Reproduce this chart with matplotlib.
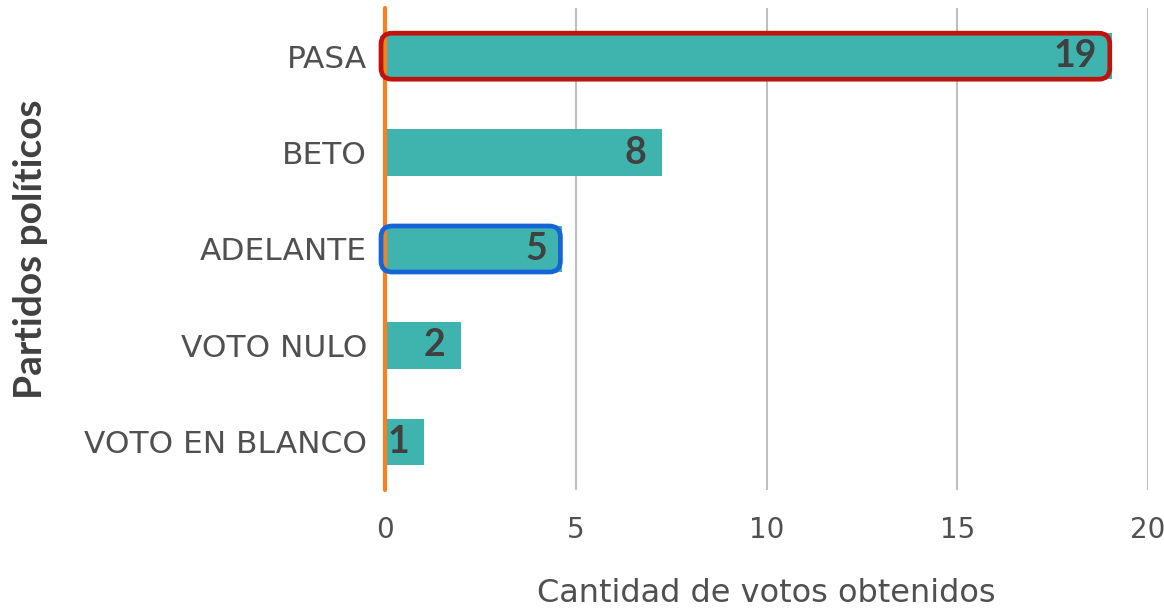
import matplotlib
matplotlib.use("Agg")
import matplotlib.pyplot as plt
from matplotlib.patches import FancyBboxPatch

categories = ["PASA", "BETO", "ADELANTE", "VOTO NULO", "VOTO EN BLANCO"]
votes_labels = [19, 8, 5, 2, 1]          # numbers printed on the bars
bar_lengths = [19.05, 7.25, 4.65, 1.98, 1.03]  # lengths as drawn in the picture
xticks = [0, 5, 10, 15, 20]
highlight = {"PASA": "#C0130E", "ADELANTE": "#1565D8"}

plt.rcParams["font.family"] = ["DejaVu Sans"]

W, H = 1164, 611
fig = plt.figure(figsize=(W / 100, H / 100), dpi=100)
ax_l, ax_r, ax_t, ax_b = 385, 1148, 8, 490
ax = fig.add_axes([ax_l / W, 1 - ax_b / H, (ax_r - ax_l) / W, (ax_b - ax_t) / H])

ypos = list(range(len(categories)))
ax.barh(ypos, bar_lengths, height=0.48, color="#3FB4AE", zorder=2)
ax.set_xlim(0, 20)
ax.set_ylim(len(categories) - 0.5, -0.5)

ax.set_xticks(xticks)
ax.set_xticklabels([str(t) for t in xticks])
ax.set_yticks(ypos)
ax.set_yticklabels(categories)
ax.tick_params(axis="both", length=0, colors="#505050")
ax.tick_params(axis="x", pad=19, labelsize=20)
ax.tick_params(axis="y", pad=13, labelsize=22.5)
for s in ax.spines.values():
    s.set_visible(False)
for t in xticks[1:]:
    ax.axvline(t, color="#BFBFBF", lw=1.5, zorder=1)
ax.axvline(0, color="#F5821F", lw=3.0, zorder=4, solid_capstyle="round", clip_on=False)

for y, v, lab in zip(ypos, bar_lengths, votes_labels):
    ax.annotate(str(lab), xy=(v, y), xytext=(-11, 0), textcoords="offset points",
                ha="right", va="center", fontsize=27, fontweight="bold",
                family=["Lato", "DejaVu Sans"], color="#404040", zorder=5)

# rounded highlight boxes
px_x = (ax_r - ax_l) / 20.0
px_y = (ax_b - ax_t) / len(categories)
for name, col in highlight.items():
    i = categories.index(name)
    x0 = -4 / px_x
    x1 = bar_lengths[i] - 2 / px_x
    h = 46 / px_y
    box = FancyBboxPatch((x0, i - h / 2), x1 - x0, h,
                         boxstyle="round,pad=0,rounding_size=%f" % (11 / px_x),
                         mutation_aspect=px_x / px_y,
                         fill=False, edgecolor=col, lw=3.4, zorder=6, clip_on=False)
    ax.add_patch(box)

ax.set_xlabel("Cantidad de votos obtenidos", fontsize=23, color="#505050", labelpad=24)
ax.set_ylabel("Partidos políticos", fontsize=28, fontweight="bold", color="#404040",
              family=["Lato", "DejaVu Sans"])
ax.yaxis.set_label_coords((48 - ax_l) / (ax_r - ax_l), 0.5)

fig.savefig("out.png", dpi=100)
